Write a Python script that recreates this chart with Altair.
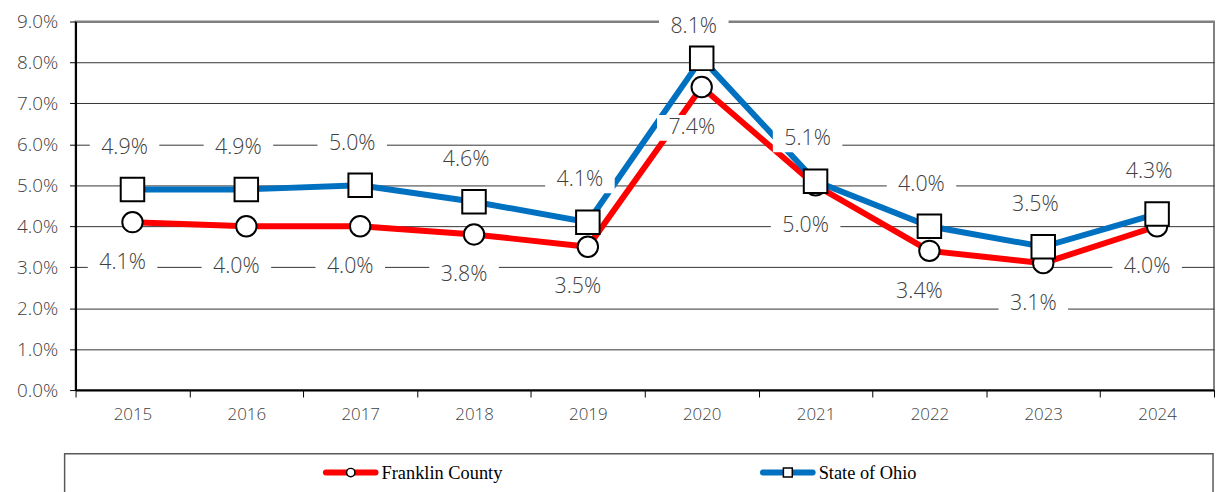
import altair as alt
import pandas as pd

years = ["2015", "2016", "2017", "2018", "2019", "2020", "2021", "2022", "2023", "2024"]
franklin = [4.1, 4.0, 4.0, 3.8, 3.5, 7.4, 5.0, 3.4, 3.1, 4.0]
ohio = [4.9, 4.9, 5.0, 4.6, 4.1, 8.1, 5.1, 4.0, 3.5, 4.3]
series_names = ["Franklin County", "State of Ohio"]
series_colors = ["#FF0000", "#0070C0"]
y_ticks = [0, 1, 2, 3, 4, 5, 6, 7, 8, 9]

df = pd.DataFrame({
    "year": years + years,
    "rate": franklin + ohio,
    "series": [series_names[0]] * len(years) + [series_names[1]] * len(years),
})
df["label"] = df["rate"].map(lambda v: f"{v:.1f}%")

FONT = "Open Sans"
TXT = "#404040"
box_path = "M-1,-0.37L1,-0.37L1,0.37L-1,0.37Z"

x_enc = alt.X(
    "year:N",
    sort=years,
    scale=alt.Scale(type="band", paddingInner=0, paddingOuter=0),
    axis=alt.Axis(
        title=None, labelAngle=0, tickBand="extent", tickSize=7, tickColor="#000",
        domainColor="#000", domainWidth=2, grid=False,
        labelFont=FONT, labelFontSize=17, labelFontWeight=300, labelColor=TXT, labelPadding=10,
    ),
)
y_scale = alt.Scale(domain=[0, 9], nice=False)
y_axis = alt.Axis(
    title=None, values=y_ticks,
    labelExpr="format(datum.value, '.1f') + '%'",
    labelFont=FONT, labelFontSize=19, labelFontWeight=300, labelColor=TXT, labelPadding=12,
    tickSize=6, tickColor="#000", domainColor="#000", domainWidth=2,
    gridColor={"condition": {"test": "datum.value === 9", "value": "#808080"}, "value": "#333333"},
    gridWidth={"condition": {"test": "datum.value === 9", "value": 2}, "value": 1},
)
y_enc = alt.Y("rate:Q", scale=y_scale, axis=y_axis)

base = alt.Chart(df).encode(x=x_enc, y=y_enc)

lines = base.mark_line(strokeWidth=6).encode(
    color=alt.Color("series:N", scale=alt.Scale(domain=series_names, range=series_colors), legend=None)
)
circles = base.transform_filter(alt.datum.series == series_names[0]).mark_point(
    shape="circle", filled=True, fill="white", stroke="black", strokeWidth=2, size=420, opacity=1
)
squares = base.transform_filter(alt.datum.series == series_names[1]).mark_point(
    shape="square", filled=True, fill="white", stroke="black", strokeWidth=2, size=560, opacity=1
)

OH_DY, OH_DX = -42, -8
FR_DY, FR_DX = 41, -10

# Ohio labels: kept inside the chart area (like Excel does) by clamping the anchor
ohio_lbl = base.transform_filter(alt.datum.series == series_names[1]).transform_calculate(
    ly="min(datum.rate, 7.85)"
).encode(y=alt.Y("ly:Q", scale=y_scale, axis=y_axis))
fr_lbl = base.transform_filter(alt.datum.series == series_names[0])

ohio_box = ohio_lbl.mark_point(
    shape=box_path, filled=True, fill="white", opacity=1, size=4900, yOffset=OH_DY, xOffset=OH_DX
)
fr_box = fr_lbl.mark_point(
    shape=box_path, filled=True, fill="white", opacity=1, size=4900, yOffset=FR_DY, xOffset=FR_DX
)
ohio_txt = ohio_lbl.mark_text(
    font=FONT, fontWeight=300, fontSize=21.5, color=TXT, baseline="middle", yOffset=OH_DY, xOffset=OH_DX
).encode(text="label:N")
fr_txt = fr_lbl.mark_text(
    font=FONT, fontWeight=300, fontSize=21.5, color=TXT, baseline="middle", yOffset=FR_DY, xOffset=FR_DX
).encode(text="label:N")

one = alt.InlineData(values=[{"k": 0}])
leg_box = alt.Chart(one).mark_rect(fill=None, stroke="#595959", strokeWidth=1.5).encode(
    x=alt.value(-11), x2=alt.value(1145), y=alt.value(435), y2=alt.value(478)
)
leg_layers = [leg_box]
for name, col, shp, sz, lx in [
    (series_names[0], series_colors[0], "circle", 70, 252),
    (series_names[1], series_colors[1], "square", 80, 692),
]:
    leg_layers.append(
        alt.Chart(one).mark_rule(strokeWidth=6, color=col, strokeCap="round").encode(
            x=alt.value(lx), x2=alt.value(lx + 50), y=alt.value(454)
        )
    )
    leg_layers.append(
        alt.Chart(one).mark_point(shape=shp, filled=True, fill="white", stroke="black",
                                  strokeWidth=1.5, size=sz, opacity=1).encode(
            x=alt.value(lx + 25), y=alt.value(454)
        )
    )
    leg_layers.append(
        alt.Chart(one).mark_text(font="Liberation Serif", fontSize=18.5, color="#000",
                                 align="left", baseline="middle").encode(
            x=alt.value(lx + 56), y=alt.value(455), text=alt.value(name)
        )
    )

chart = alt.layer(
    lines, circles, squares, ohio_box, fr_box, ohio_txt, fr_txt, *leg_layers
).properties(
    width=1146, height=371,
    padding={"left": 68, "top": 12, "right": 2, "bottom": 101},
    autosize=alt.AutoSizeParams(type="none"),
    background="white",
).configure_view(stroke="#808080", strokeWidth=2)

chart.save("out.html", embed_options={"renderer": "svg", "actions": False})
